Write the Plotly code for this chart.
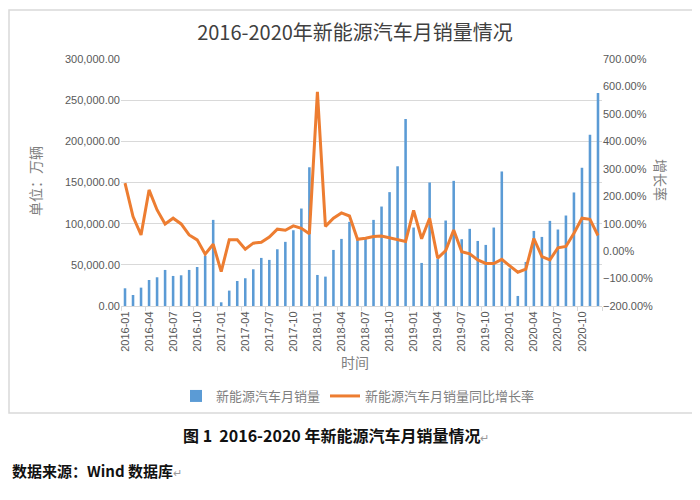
import plotly.graph_objects as go

months = [f"{y}-{m:02d}" for y in range(2016, 2021) for m in range(1, 13)]

sales = [
    21500, 13400, 22300, 31600, 34900, 43800, 36500, 37300, 43800, 47400, 61200, 104600,
    4500, 18700, 30400, 33700, 44600, 58400, 56000, 68900, 77900, 92000, 118400, 168500,
    37700, 35700, 68100, 81500, 102200, 80000, 81500, 104600, 120800, 138300, 169700, 227100,
    95300, 52300, 150000, 57000, 103800, 152000, 81100, 93700, 79000, 74200, 95300, 163400,
    45800, 12200, 53500, 91200, 83900, 103400, 92900, 109900, 137900, 167900, 208000, 258700,
]

growth_pct = [
    248, 126, 59, 223, 150, 99, 120, 99, 59, 41, -11, 25,
    -75, 41, 41, 7, 29, 32, 51, 80, 76, 92, 83, 63,
    580, 90, 120, 139, 128, 43, 47, 53, 55, 49, 41, 35,
    148, 45, 120, -26, 2, 77, -2, -10, -32, -45, -45, -30,
    -54, -77, -66, 46, -20, -32, 12, 17, 65, 120, 116, 57,
]
growth = [v / 100 for v in growth_pct]

OFF = 8  # page body margin
FW, FH = 700 - OFF, 500 - OFF
L, R, T, B = 121 - OFF, 602 - OFF, 59 - OFF, 306 - OFF
W, H = R - L, B - T


def px(x):
    return (x - OFF - L) / W


def py(y):
    return (B - (y - OFF)) / H


fig = go.Figure()
fig.add_trace(go.Bar(
    x=months, y=sales, name="新能源汽车月销量",
    marker=dict(color="#5B9BD5", line=dict(width=0)), width=0.32,
))
fig.add_trace(go.Scatter(
    x=months, y=growth, name="新能源汽车月销量同比增长率", yaxis="y2",
    mode="lines", line=dict(color="#ED7D31", width=3),
))

grey = "#595959"
tickfont = dict(family="Liberation Sans, Arial, sans-serif", size=11, color=grey)
cjk = "Noto Sans CJK SC"

fig.update_layout(
    width=FW, height=FH,
    margin=dict(l=L, r=FW - R, t=T, b=FH - B, autoexpand=False),
    paper_bgcolor="white", plot_bgcolor="white",
    title=dict(text="2016-2020年新能源汽车月销量情况", x=(355 - OFF) / FW, xanchor="center",
               y=1 - (33 - OFF) / FH, yanchor="middle",
               font=dict(family=cjk, size=20, color="#404040")),
    xaxis=dict(type="category", tickmode="linear", tick0=0, dtick=3,
               tickangle=-90, tickfont=tickfont, tickson="boundaries",
               ticks="outside", ticklen=4, tickcolor="#d9d9d9",
               showgrid=False, showline=True, linecolor="#d9d9d9",
               range=[-0.5, 59.5], zeroline=False),
    yaxis=dict(range=[0, 300000], dtick=50000, tickformat=",.2f",
               tickfont=tickfont, showgrid=True, gridcolor="#d9d9d9",
               gridwidth=1, zeroline=False, ticks="", showline=False),
    yaxis2=dict(range=[-2, 7], dtick=1, tickformat=".2%", overlaying="y",
                side="right", tickfont=tickfont, showgrid=False,
                zeroline=False, ticks="", showline=False),
    showlegend=True,
    legend=dict(orientation="h", x=px(358), xanchor="center", y=py(396),
                yanchor="middle", font=dict(family=cjk, size=13, color="#7f7f7f"),
                itemwidth=30, bgcolor="rgba(0,0,0,0)", tracegroupgap=0),
    bargap=0.6,
)

ann = [
    dict(text="单位：万辆", x=px(35), y=py(181), textangle=-90,
         font=dict(family=cjk, size=14, color="#7f7f7f")),
    dict(text="增长率", x=px(661), y=py(180), textangle=90,
         font=dict(family=cjk, size=14, color="#7f7f7f")),
    dict(text="时间", x=px(355), y=py(362),
         font=dict(family=cjk, size=14, color="#7f7f7f")),
    dict(text="<b>图 1  2016-2020 年新能源汽车月销量情况</b><span style='font-size:11px;color:#999'>↵</span>",
         x=px(336), y=py(435), font=dict(family=cjk, size=16, color="#111111")),
    dict(text="<b>数据来源：Wind 数据库</b><span style='font-size:11px;color:#999'>↵</span>",
         x=px(10), xanchor="left", y=py(470),
         font=dict(family=cjk, size=15, color="#111111")),
]
for a in ann:
    a.setdefault("xanchor", "center")
    a.update(xref="paper", yref="paper", yanchor="middle", showarrow=False)
    fig.add_annotation(**a)

fig.add_shape(type="rect", xref="paper", yref="paper",
              x0=px(9), x1=px(712), y0=py(413), y1=py(10),
              line=dict(color="#d9d9d9", width=1.5), layer="below")
fig.add_shape(type="rect", xref="paper", yref="paper",
              x0=px(658), x1=px(688), y0=py(7), y1=py(-5),
              line=dict(color="#bfbfbf", width=1), layer="below")

fig.write_html("out.html")
